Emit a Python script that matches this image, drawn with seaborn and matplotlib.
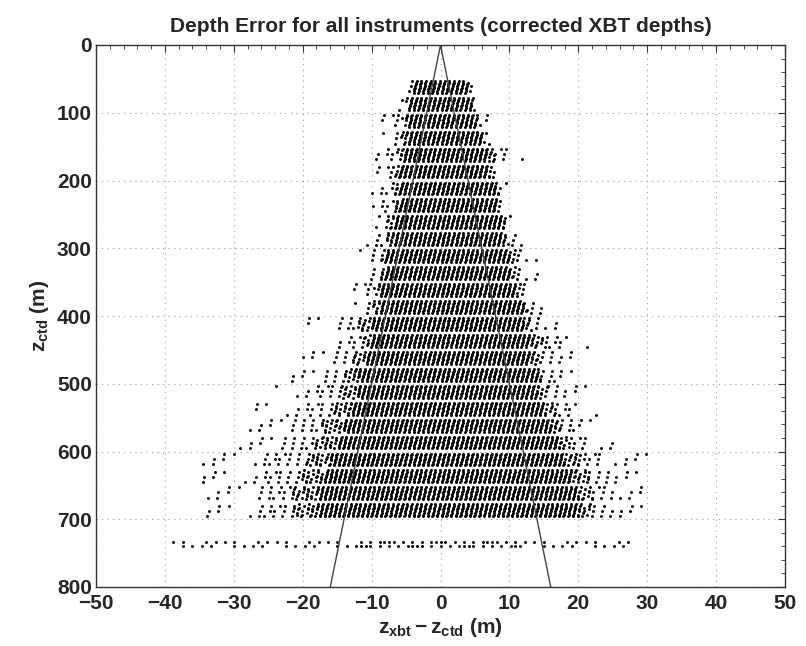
import numpy as np
import pandas as pd
import seaborn as sns
import matplotlib
matplotlib.use("Agg")
import matplotlib.pyplot as plt
from matplotlib.ticker import MultipleLocator

# ---- data (envelopes of the point cloud per 25 m depth band) ----
band_top = [50, 75, 100, 125, 150, 175, 200, 225, 250, 275, 300, 325, 350, 375,
            400, 425, 450, 475, 500, 525, 550, 575, 600, 625, 650, 675]
outer_left = [-5.5, -7, -8.5, -9, -10, -10, -10, -10, -11, -11, -12, -12, -13, -13,
              -20, -16, -20, -22, -25, -27, -30, -32, -35, -35, -36, -35]
outer_right = [4.5, 5.5, 7, 8, 12, 9, 10, 10, 11, 13, 15, 15, 14, 15,
               18, 22, 20, 20, 22, 23, 24, 25, 30, 31, 30, 30]
core_left = [-4, -4.5, -5, -5, -5.5, -6, -6, -6, -7, -7, -8, -8, -9, -9,
             -10, -10, -11, -12, -12, -13, -14, -15, -16, -17, -18, -18]
core_right = [4, 4.5, 5, 6, 7, 7, 8, 8, 9, 9, 10, 10, 11, 12,
              12, 13, 13, 14, 14, 15, 16, 17, 18, 19, 20, 20]
bottom_rows = [734, 739]
bottom_left = -40
bottom_right = 28

# theoretical error envelope (+-2% of depth)
line_x = [-16, 0, 16]
line_z = [800, 0, 800]

# ---- build the point cloud on the instrument's quantised grid ----
dx = 0.68
xs, zs = [], []
for b, (top, oL, oR, cL, cR) in enumerate(zip(band_top, outer_left, outer_right,
                                               core_left, core_right)):
    levels = np.arange(top + 3, top + 23, 2.5)
    for i, z in enumerate(levels):
        shift = -(z - top) * 0.025
        for k in range(int(np.floor(oL / dx)) - 1, int(np.ceil(oR / dx)) + 2):
            x = k * dx + shift
            if x < oL or x > oR:
                continue
            h = (k * 5 + i * 7 + b * 3) % 11
            if cL <= x <= cR:
                keep = True
            else:
                if x < cL:
                    f = (cL - x) / max(cL - oL, 0.1)
                else:
                    f = (x - cR) / max(oR - cR, 0.1)
                if f < 0.2:
                    keep = h < 6
                elif f < 0.5:
                    keep = (i % 3 == b % 2) and h < 6
                else:
                    keep = (i % 3 == b % 2) and h < 2
            if keep:
                xs.append(x)
                zs.append(z)
for j, z in enumerate(bottom_rows):
    for k in range(int(bottom_left / dx), int(bottom_right / dx) + 1):
        x = k * dx
        thr = 7 if abs(x) < 12 else 4
        if (k * 5 + j * 3) % 11 < thr:
            xs.append(x)
            zs.append(z)
df = pd.DataFrame({"dz": xs, "zctd": zs})

sns.set_style("white")
plt.rcParams["font.family"] = ["Liberation Sans", "DejaVu Sans"]
plt.rcParams["font.weight"] = "bold"
plt.rcParams["mathtext.fontset"] = "custom"
plt.rcParams["mathtext.rm"] = "Liberation Sans:bold"
plt.rcParams["mathtext.it"] = "Liberation Sans:bold"
plt.rcParams["mathtext.bf"] = "Liberation Sans:bold"

fig = plt.figure(figsize=(8.06, 6.46), dpi=100)
ax = fig.add_axes([96 / 806, 1 - 587 / 646, (785 - 96) / 806, (587 - 45) / 646])

sns.scatterplot(data=df, x="dz", y="zctd", ax=ax, s=4.5, color="black",
                linewidth=0, edgecolor=None, legend=False)
sns.lineplot(x=line_x, y=line_z, ax=ax, color="#444444", linewidth=1.0,
             sort=False, estimator=None)

ax.set_xlim(-50, 50)
ax.set_ylim(800, 0)
ax.set_xticks(range(-50, 51, 10))
ax.set_yticks(range(0, 801, 100))
ax.xaxis.set_minor_locator(MultipleLocator(2))
ax.yaxis.set_minor_locator(MultipleLocator(20))
ax.tick_params(which="both", direction="in", top=True, right=True, color="#333333")
ax.tick_params(which="major", length=5, labelsize=15)
ax.tick_params(which="minor", length=3)
ax.tick_params(axis="x", which="major", pad=5)
ax.tick_params(axis="y", which="major", pad=3)
for lab in ax.get_xticklabels() + ax.get_yticklabels():
    lab.set_fontweight("bold")
ax.grid(True, which="major", linestyle=(0, (1, 4)), color="#999999", linewidth=0.8)
for s in ax.spines.values():
    s.set_color("#333333")
    s.set_linewidth(1.0)

ax.set_xlabel(r"$z_{xbt} - z_{ctd}$ (m)", fontsize=15, fontweight="bold", labelpad=2)
ax.set_ylabel(r"$z_{ctd}$ (m)", fontsize=15, fontweight="bold", labelpad=4)
ax.set_title("Depth Error for all instruments (corrected XBT depths)",
             fontsize=15, fontweight="bold", pad=9)

fig.savefig("out.png", dpi=100)
